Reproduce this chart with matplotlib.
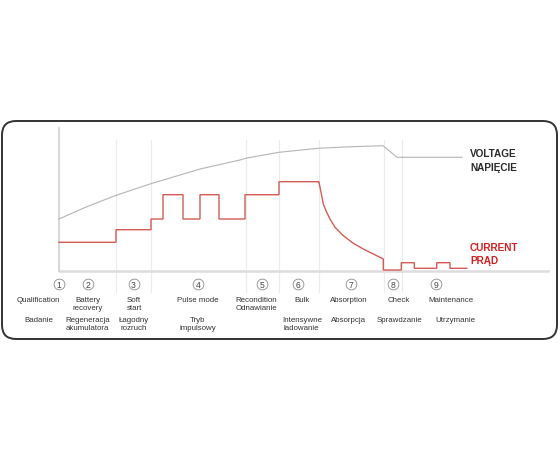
import matplotlib
matplotlib.use("Agg")
import matplotlib.pyplot as plt
from matplotlib.patches import FancyBboxPatch

plt.rcParams['font.family'] = ['Liberation Sans', 'DejaVu Sans']

# ---- data (time units along x, level units along y) ----
volt_t = [0, 26, 56, 91, 141, 181, 188, 220, 259, 291, 324, 338, 403]
volt_v = [52, 63.5, 75.3, 87, 102, 111, 113, 118.7, 122.7, 124.2, 125.3, 113.7, 113.7]

step_t = [0, 57, 92, 104, 124, 141, 160, 186, 220, 260]
step_i = [28.7, 41.3, 52, 76.3, 52, 76.3, 52, 76.3, 89.3, 89.3]

decay_t = [260, 262.7, 264.3, 267.7, 271, 276, 284.3, 294.3, 304.3, 314.3, 324.3]
decay_i = [88.7, 75.3, 67, 58.7, 52, 43.7, 35.3, 27.7, 22, 17, 12]

tail_t = [324.3, 342.3, 355.3, 377.7, 391, 407.7]
tail_i = [1, 8.3, 2.7, 8.3, 2.7, 2.7]

grid_t = [57, 92, 187, 220, 260, 325, 342.5]

stage_nums = ['1', '2', '3', '4', '5', '6', '7', '8', '9']
stage_num_t = [-0.5, 28.5, 74.5, 139, 202.7, 239.3, 292, 333.7, 377]

top_labels = ['Qualification', 'Battery\nrecovery', 'Soft\nstart', 'Pulse mode',
              'Recondition\nOdnawianie', 'Bulk', 'Absorption', 'Check', 'Maintenance']
top_t = [-20.5, 28.7, 75, 139, 197, 243, 289.3, 340.3, 392]

bottom_labels = ['Badanie', 'Regeneracja\nakumulatora', 'Łagodny\nrozruch', 'Tryb\nimpulsowy',
                 'Intensywne\nładowanie', 'Absorpcja', 'Sprawdzanie', 'Utrzymanie']
bottom_t = [-19.7, 28.7, 75, 139, 243, 289, 340.7, 396]

W, H = 560, 460
fig = plt.figure(figsize=(W / 100, H / 100), dpi=100)

# background frame
bg = fig.add_axes([0, 0, 1, 1], zorder=0)
bg.set_xlim(0, W)
bg.set_ylim(0, H)
bg.axis('off')
bg.add_patch(FancyBboxPatch((2, 120), 555, 218,
                            boxstyle="round,pad=0,rounding_size=14",
                            fc='white', ec='#333333', lw=1.4))

# chart axes
ax = fig.add_axes([59 / W, (H - 272) / H, (548 - 59) / W, (272 - 129) / H], zorder=1)
ax.patch.set_alpha(0)
ax.set_xlim(0, 489)
ax.set_ylim(0, 143)
for s in ax.spines.values():
    s.set_visible(False)
ax.set_xticks([])
ax.set_yticks([])

# grid lines
for g in grid_t:
    ax.plot([g, g], [-21, 131], color='#ebebeb', lw=0.8, clip_on=False, zorder=1)
# axes lines
ax.plot([0, 489], [0, 0], color='#dddddd', lw=1.8, clip_on=False, zorder=1)
ax.plot([0, 0], [0, 143], color='#d0d0d0', lw=1.2, clip_on=False, zorder=1)

# voltage
ax.plot(volt_t, volt_v, color='#b5b5b5', lw=0.8, zorder=2, clip_on=False)

# current: steps, decay, then stepped tail joined to decay end
red = '#d65a55'
cx, cy = [], []
for i in range(len(step_t) - 1):
    cx += [step_t[i], step_t[i + 1]]
    cy += [step_i[i], step_i[i]]
cx += decay_t
cy += decay_i
for i in range(len(tail_t) - 1):
    cx += [tail_t[i], tail_t[i + 1]]
    cy += [tail_i[i], tail_i[i]]
cx.append(tail_t[-1])
cy.append(tail_i[-1])
ax.plot(cx, cy, color=red, lw=1.0, zorder=3, clip_on=False, solid_joinstyle='miter')

# right labels
ax.text(411, 118, 'VOLTAGE', fontsize=7.2, fontweight='bold', color='#2a2a2a', va='center', ha='left')
ax.text(411, 104, 'NAPIĘCIE', fontsize=7.2, fontweight='bold', color='#2a2a2a', va='center', ha='left')
ax.text(411, 24, 'CURRENT', fontsize=7.2, fontweight='bold', color='#d42020', va='center', ha='left')
ax.text(411, 11, 'PRĄD', fontsize=7.2, fontweight='bold', color='#d42020', va='center', ha='left')

# stage numbers in circles
ax.scatter(stage_num_t, [-13.3] * len(stage_num_t), s=60, facecolor='white',
           edgecolor='#8a8a8a', linewidth=0.6, clip_on=False, zorder=4)
for t, n in zip(stage_num_t, stage_nums):
    ax.text(t, -13.3, n, fontsize=6.2, color='#444444', ha='center', va='center', zorder=5)

txt_kw = dict(fontsize=5.7, color='#333333', ha='center', va='top', linespacing=1.15)
for t, lab in zip(top_t, top_labels):
    ax.text(t, -25.5, lab, **txt_kw)
for t, lab in zip(bottom_t, bottom_labels):
    ax.text(t, -45, lab, **txt_kw)

fig.savefig('out.png', dpi=100)
